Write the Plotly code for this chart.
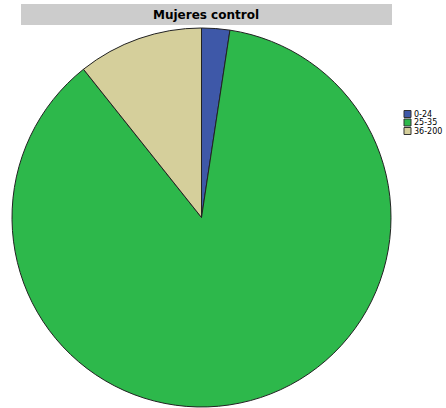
import plotly.graph_objects as go

labels = ["0-24", "25-35", "36-200"]
values = [2.4, 86.9, 10.7]
colors = ["#3e58a8", "#2db84b", "#d5cf9b"]
title_text = "Mujeres control"

W, H = 446, 408
fig = go.Figure(go.Pie(
    labels=labels, values=values, sort=False, direction="clockwise", rotation=0,
    marker=dict(colors=colors, line=dict(color="#222222", width=1)),
    textinfo="none", hoverinfo="label+percent",
    domain=dict(x=[12/W, 391/W], y=[1-407/H, 1-28/H]),
))
fig.add_shape(type="rect", xref="paper", yref="paper",
              x0=21/W, x1=392/W, y0=1-25/H, y1=1-4/H,
              fillcolor="#cccccc", line=dict(width=0), layer="below")
fig.add_annotation(text="<b>" + title_text + "</b>", xref="paper", yref="paper",
                   x=206/W, y=1-15/H, showarrow=False, xanchor="center", yanchor="middle",
                   font=dict(family="DejaVu Sans", size=12, color="#000000"))

# compact legend (SPSS style)
for i, (lab, col) in enumerate(zip(labels, colors)):
    yc = 114 + 8.5 * i
    fig.add_shape(type="rect", xref="paper", yref="paper",
                  x0=404/W, x1=411/W, y0=1-(yc+3.5)/H, y1=1-(yc-3.5)/H,
                  fillcolor=col, line=dict(color="#333333", width=1))
    fig.add_annotation(text=lab, xref="paper", yref="paper",
                       x=412/W, y=1-yc/H, showarrow=False, xanchor="left", yanchor="middle",
                       font=dict(family="DejaVu Sans", size=8, color="#000000"))

fig.update_layout(
    width=W, height=H, margin=dict(l=0, r=0, t=0, b=0),
    paper_bgcolor="white", plot_bgcolor="white",
    showlegend=False,
)
fig.write_html("out.html", config={"displayModeBar": False},
               post_script="document.body.style.margin='0';document.body.style.overflow='hidden';")
